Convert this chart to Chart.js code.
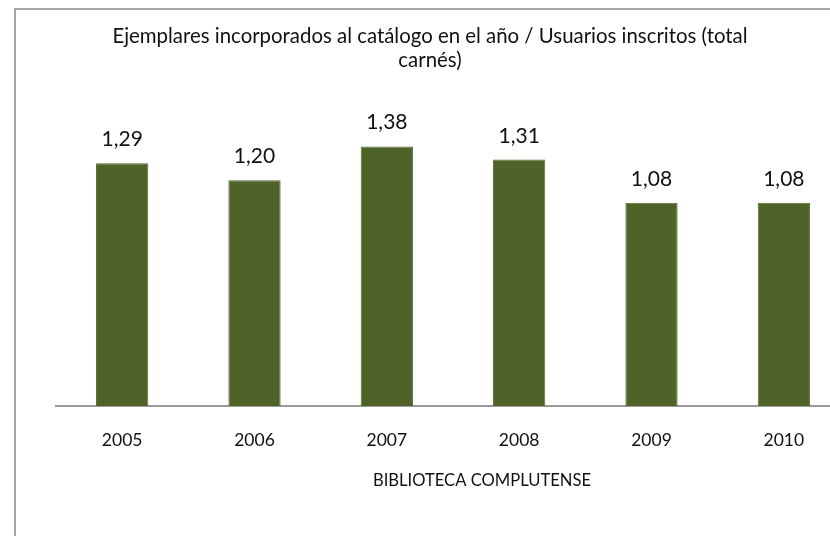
<!DOCTYPE html>
<html>
<head>
<meta charset="utf-8">
<script src="https://cdn.jsdelivr.net/npm/chart.js@4.4.1/dist/chart.umd.min.js"></script>
<style>
  html, body { margin: 0; padding: 0; background: #fff; overflow: hidden; }
  #frame { position: absolute; left: 14px; top: 8px; width: 900px; height: 600px;
           border-left: 2px solid #a5a5a5; border-top: 2px solid #a5a5a5; }
  #wrap { position: absolute; left: 0; top: 0; width: 900px; height: 536px; }
</style>
</head>
<body>
<div id="frame"></div>
<div id="wrap"><canvas id="barChart"></canvas></div>
<script>
// data
const years = ['2005', '2006', '2007', '2008', '2009', '2010'];
const ratios = [1.29, 1.20, 1.38, 1.31, 1.08, 1.08];
const titleLines = ['Ejemplares incorporados al catálogo en el año / Usuarios inscritos (total', 'carnés)'];
const axisTitle = 'BIBLIOTECA COMPLUTENSE';

const FONT = 'Lato';
const TEXT = '#111';

function fmt(v) {
    return v.toFixed(2).replace('.', ',');
}

// title, axis caption and value labels drawn on the canvas
const textPlugin = {
    id: 'textPlugin',
    afterDatasetsDraw(chart) {
        const ctx = chart.ctx;
        ctx.save();
        ctx.fillStyle = TEXT;
        ctx.textAlign = 'center';
        ctx.textBaseline = 'alphabetic';

        ctx.font = '20.4px ' + FONT;
        ctx.fillText(titleLines[0], 430, 43);
        ctx.fillText(titleLines[1], 430, 67);

        ctx.font = '16.6px ' + FONT;
        ctx.fillText(axisTitle, 482, 486);

        ctx.font = '21px ' + FONT;
        const meta = chart.getDatasetMeta(0);
        meta.data.forEach((bar, i) => {
            ctx.fillText(fmt(ratios[i]), bar.x, bar.y - 17);
        });
        ctx.restore();
    }
};

const canvas = document.querySelector('#barChart');

new Chart(canvas, {
    type: 'bar',
    data: {
        labels: years,
        datasets: [{
            label: 'Ejemplares / Usuarios',
            data: ratios,
            backgroundColor: '#4f6228',
            borderColor: '#5b6e35',
            borderWidth: 1,
            categoryPercentage: 1,
            barPercentage: 0.395
        }]
    },
    options: {
        responsive: true,
        maintainAspectRatio: false,
        animation: false,
        layout: {
            padding: {left: 56, right: 50, top: 105, bottom: 61}
        },
        plugins: {
            legend: {display: false},
            title: {display: false},
            tooltip: {enabled: false}
        },
        scales: {
            x: {
                grid: {display: false, drawTicks: false},
                border: {display: true, color: '#9a9a9a', width: 2},
                ticks: {color: TEXT, font: {family: FONT, size: 17.5}, padding: 24}
            },
            y: {
                display: false,
                min: 0,
                max: 1.6
            }
        }
    },
    plugins: [textPlugin]
});
</script>
</body>
</html>
